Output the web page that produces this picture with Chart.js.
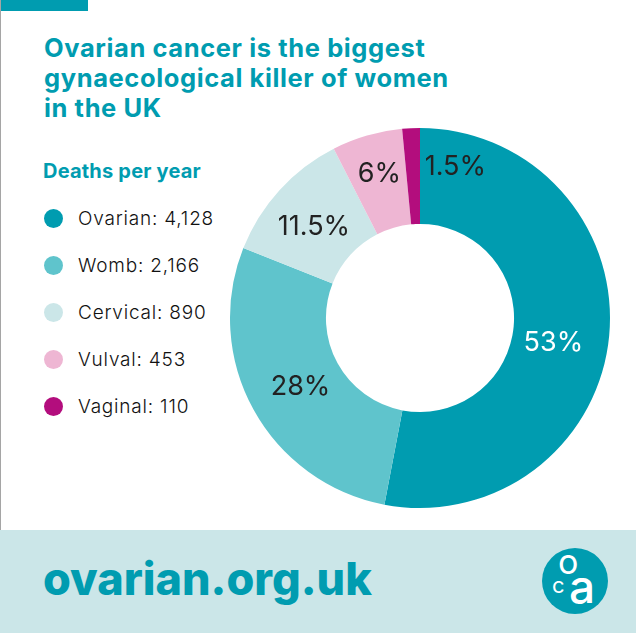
<!DOCTYPE html>
<html lang="en">
<head>
  <title>Ovarian cancer deaths</title>
  <meta charset="utf-8">
  <script src="https://cdn.jsdelivr.net/npm/chart.js"></script>
  <style>
    html, body { margin: 0; padding: 0; background: #fff; }
    body { width: 636px; height: 633px; position: relative; overflow: hidden; font-family: Inter, "Open Sans", sans-serif; }
    .edge { position: absolute; left: 0; top: 0; width: 1px; height: 633px; background: #a5a5a5; }
    .top-bar { position: absolute; left: 0; top: 0; width: 88px; height: 11px; background: #009cb0; }
    h1 { position: absolute; left: 44px; top: 33px; margin: 0; font-size: 25.5px; line-height: 30px; font-weight: 700; letter-spacing: 0.6px; color: #009cb0; white-space: nowrap; }
    h2 { position: absolute; left: 43px; top: 159px; margin: 0; font-size: 20px; line-height: 24px; font-weight: 700; letter-spacing: 0.2px; color: #009cb0; white-space: nowrap; }
    .legend-row { position: absolute; left: 44px; height: 20px; line-height: 20px; font-size: 19px; font-weight: 300; color: #111; white-space: nowrap; letter-spacing: 0.8px; }
    .legend-dot { position: absolute; left: 0; top: 0; width: 19px; height: 19px; border-radius: 50%; }
    .legend-text { position: absolute; left: 34px; top: 0; }
    #chart { position: absolute; left: 220px; top: 118px; }
    .footer { position: absolute; left: 0; top: 530px; width: 636px; height: 103px; background: #cbe6e8; }
    .url { position: absolute; left: 43px; top: 21px; font-size: 45px; line-height: 56px; font-weight: 800; color: #009cb0; white-space: nowrap; }
    .logo { position: absolute; left: 542px; top: 18px; width: 66px; height: 66px; border-radius: 50%; background: #009cb0; color: #fff; }
    .logo span { position: absolute; line-height: 1; }
  </style>
</head>
<body>
<div class="top-bar"></div>
<div class="edge"></div>
<h1>Ovarian cancer is the biggest<br>gynaecological killer of women<br>in the UK</h1>
<h2>Deaths per year</h2>
<div id="legend"></div>
<canvas id="chart" width="400" height="400"></canvas>
<div class="footer">
  <div class="url">ovarian.org.uk</div>
  <div class="logo">
    <span style="left:16px;top:-3px;font-size:34px">o</span>
    <span style="left:10px;top:26px;font-size:22px">c</span>
    <span style="left:27px;top:15px;font-size:46px;font-weight:500">a</span>
  </div>
</div>
<script>
  const categories = ['Ovarian', 'Womb', 'Cervical', 'Vulval', 'Vaginal'];
  const deaths = [4128, 2166, 890, 453, 110];
  const shares = [53, 28, 11.5, 6, 1.5];
  const colors = ['#009cb0', '#5fc4cc', '#cbe6e8', '#eeb6d3', '#b30d7d'];
  const labelColors = ['#fff', '#222', '#222', '#222', '#222'];
  // nudges from the middle of each ring slice to where the reference has its label
  const labelNudges = [[-8, 12], [5, 0], [-1, 4], [-1, -8], [42, -9]];

  const legend = document.getElementById('legend');
  categories.forEach((name, i) => {
    const row = document.createElement('div');
    row.className = 'legend-row';
    row.style.top = (209 + i * 47) + 'px';
    row.innerHTML = '<span class="legend-dot" style="background:' + colors[i] + '"></span>' +
      '<span class="legend-text">' + name + ': ' + deaths[i].toLocaleString('en-GB') + '</span>';
    legend.appendChild(row);
  });

  const sliceLabels = {
    id: 'sliceLabels',
    afterDatasetsDraw(chart) {
      const { ctx } = chart;
      ctx.save();
      ctx.font = '27px Inter, "Open Sans", sans-serif';
      ctx.textAlign = 'center';
      ctx.textBaseline = 'middle';
      chart.getDatasetMeta(0).data.forEach((arc, i) => {
        const pos = arc.tooltipPosition();
        ctx.fillStyle = labelColors[i];
        ctx.fillText(shares[i] + '%', pos.x + labelNudges[i][0], pos.y + labelNudges[i][1]);
      });
      ctx.restore();
    }
  };

  new Chart(document.getElementById('chart'), {
    type: 'doughnut',
    data: {
      labels: categories,
      datasets: [{
        data: shares,
        backgroundColor: colors,
        borderWidth: 0
      }]
    },
    options: {
      responsive: false,
      animation: false,
      cutout: '49.5%',
      layout: { padding: 10 },
      plugins: {
        legend: { display: false },
        tooltip: { enabled: false }
      }
    },
    plugins: [sliceLabels]
  });
</script>
</body>
</html>
